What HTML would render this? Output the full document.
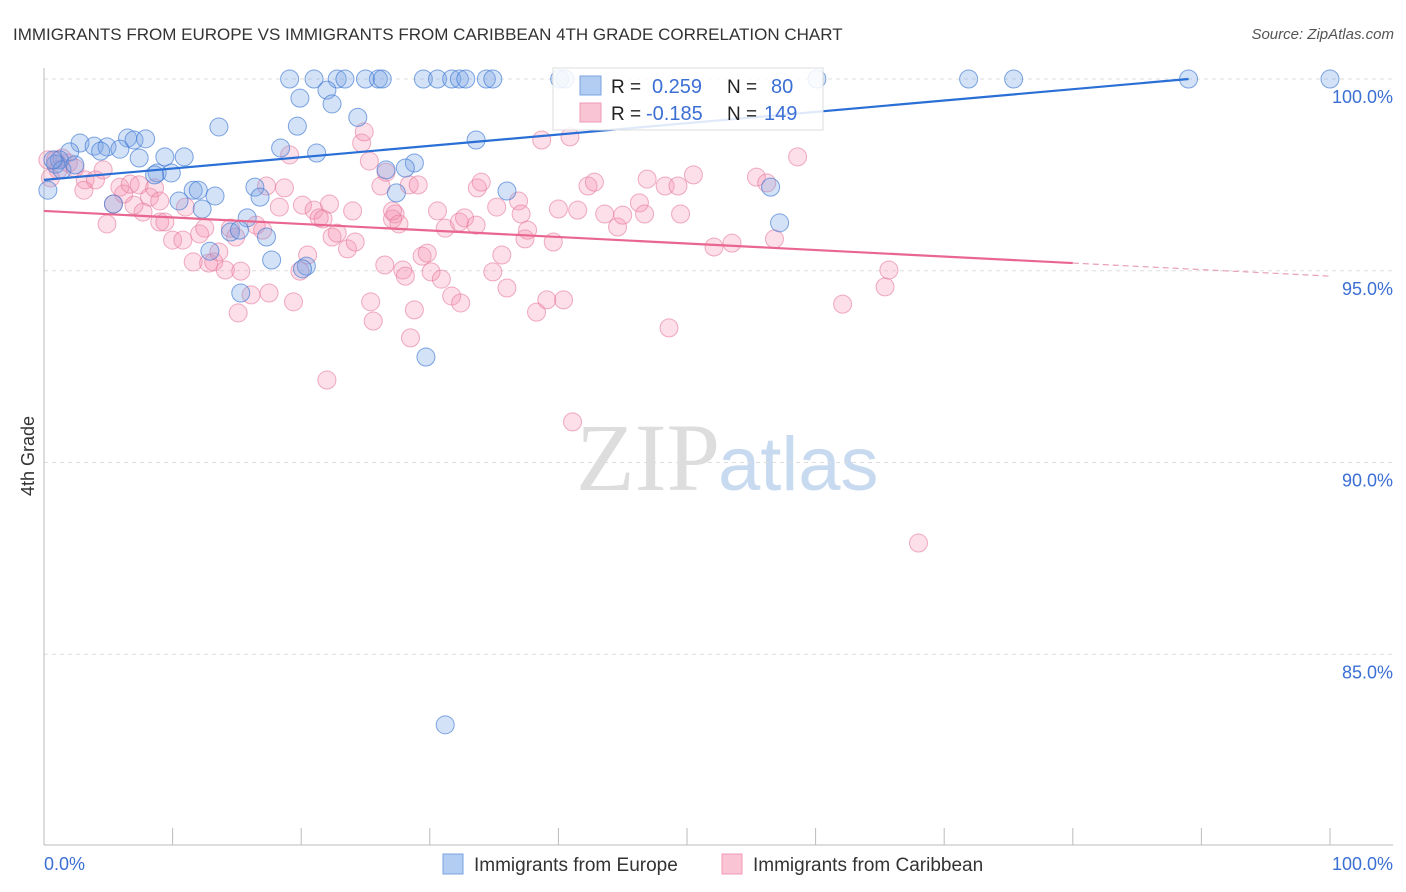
<!DOCTYPE html>
<html><head><meta charset="utf-8"><style>
body{margin:0;background:#fff;font-family:"Liberation Sans",sans-serif;}
svg{display:block}
</style></head><body>
<svg id="chart" width="1406" height="892">
<text x="13" y="40" font-size="17" fill="#333">IMMIGRANTS FROM EUROPE VS IMMIGRANTS FROM CARIBBEAN 4TH GRADE CORRELATION CHART</text>
<text x="1394" y="39" font-size="15" fill="#555" font-style="italic" text-anchor="end">Source: ZipAtlas.com</text>
<text x="720" y="490" font-size="96" fill="#ddd" text-anchor="end" font-family="Liberation Serif,serif">ZIP</text>
<text x="718" y="490" font-size="76" fill="#c8daf0">atlas</text>
<g id="grid"></g><g id="axes"></g><g id="pts"></g><g id="trends"></g>
<text transform="translate(34,456) rotate(-90)" font-size="18" fill="#333" text-anchor="middle">4th Grade</text>
<text x="44" y="870" font-size="18" fill="#3b6fd4">0.0%</text>
<text x="1393" y="870" font-size="18" fill="#3b6fd4" text-anchor="end">100.0%</text>
<g>
<rect x="553" y="68" width="270" height="62" fill="#fff" fill-opacity="0.85" stroke="#ddd"/>
<rect x="580" y="76" width="21" height="19" fill="#b3cdf2" stroke="#7aa3e0"/>
<rect x="580" y="103" width="21" height="19" fill="#f9c4d3" stroke="#f09ab4"/>
<text x="611" y="93" font-size="19" fill="#222">R =</text><text x="652" y="93" font-size="20" fill="#3b6fd4">0.259</text>
<text x="727" y="93" font-size="19" fill="#222">N =</text><text x="771" y="93" font-size="20" fill="#3b6fd4">80</text>
<text x="611" y="120" font-size="19" fill="#222">R =</text><text x="646" y="120" font-size="20" fill="#3b6fd4">-0.185</text>
<text x="727" y="120" font-size="19" fill="#222">N =</text><text x="764" y="120" font-size="20" fill="#3b6fd4">149</text>
</g>
<g>
<rect x="443" y="854" width="20" height="20" fill="#b3cdf2" stroke="#7aa3e0"/>
<text x="474" y="871" font-size="19" fill="#333">Immigrants from Europe</text>
<rect x="722" y="854" width="20" height="20" fill="#f9c4d3" stroke="#f09ab4"/>
<text x="753" y="871" font-size="19" fill="#333">Immigrants from Caribbean</text>
</g>
</svg>
<script>
const yTicks=[100,95,90,85];
const xTicks=[0,10,20,30,40,50,60,70,80,90,100];
const blueX=[19.1,21.0,22.8,23.4,25.0,26.0,26.3,29.5,30.6,31.7,32.3,32.8,34.4,34.9,40.1,40.5,60.1,71.9,75.4,89.0,100,19.9,22.0,22.4,24.4,13.6,19.7,2.8,3.9,4.9,6.5,7.0,7.9,5.9,4.4,2.0,1.2,0.9,7.4,9.4,10.9,18.4,21.2,33.6,28.8,28.1,26.6,8.8,9.9,8.6,11.6,12.0,13.3,16.4,16.8,27.4,36.0,56.5,10.5,12.3,5.4,14.5,15.8,15.2,17.3,12.9,17.7,20.4,20.1,15.3,57.2,29.7,31.2,0.3,1.4,2.4,0.7];
const blueY=[100,100,100,100,100,100,100,100,100,100,100,100,100,100,100,100,100,100,100,100,100,99.5,99.71,99.35,99.0,98.75,98.77,98.33,98.25,98.23,98.46,98.41,98.44,98.17,98.12,98.1,97.89,97.78,97.94,97.97,97.97,98.2,98.07,98.41,97.81,97.68,97.63,97.55,97.55,97.5,97.1,97.1,96.95,97.18,96.92,97.03,97.08,97.18,96.82,96.61,96.74,96.01,96.38,96.06,95.88,95.51,95.28,95.12,95.05,94.42,96.25,92.75,83.16,97.1,97.63,97.76,97.89];
const pinkX=[0.3,0.9,1.4,1.9,1.1,2.4,3.2,4.0,4.6,0.5,3.1,4.9,5.4,5.9,6.2,6.7,7.4,8.2,7.7,7.0,8.6,9.0,9.4,10.0,10.8,11.6,12.1,12.5,12.8,13.2,13.6,14.1,15.3,14.5,14.9,15.1,16.1,16.5,17.0,17.5,17.3,18.3,18.7,19.1,19.4,19.9,20.1,20.5,21.0,21.4,21.7,22.4,22.2,22.8,23.6,24.0,24.2,24.7,24.9,25.3,25.4,25.6,26.2,26.6,27.3,27.1,27.1,26.5,27.6,27.9,28.1,28.4,28.8,29.1,28.5,29.4,29.8,30.1,30.6,30.9,31.2,31.7,32.4,32.3,32.7,33.6,33.7,34.0,34.9,35.2,35.6,36.0,36.9,37.1,37.4,37.6,38.3,39.1,39.6,40.0,40.4,41.1,41.5,42.3,42.8,43.6,44.6,45.0,46.3,46.7,46.9,48.3,48.6,49.3,49.5,50.5,52.1,53.5,55.4,56.2,56.8,58.6,62.1,65.4,65.7,68.0,38.7,40.9,22.0,11.0,9.0];
const pinkY=[97.89,97.89,97.94,97.81,97.63,97.68,97.37,97.37,97.63,97.42,97.1,96.22,96.74,97.18,97.0,97.26,97.24,96.92,96.53,96.71,97.16,96.27,96.27,95.8,95.8,95.23,95.96,96.11,95.2,95.23,95.49,95.02,94.99,96.11,95.88,93.9,94.37,96.19,96.06,94.42,97.21,96.66,97.16,98.02,94.19,94.99,96.71,95.41,96.58,96.38,96.35,95.88,96.74,95.98,95.57,96.56,95.75,98.33,98.62,97.86,94.19,93.69,97.21,97.57,96.48,96.35,96.56,95.15,96.22,95.02,94.86,97.24,93.98,97.24,93.25,95.38,95.46,94.97,96.56,94.78,96.11,94.34,94.16,96.27,96.38,96.19,97.16,97.31,94.97,96.66,95.41,94.55,96.82,96.48,95.83,96.06,93.92,94.24,95.75,96.61,94.24,91.06,96.58,97.21,97.31,96.48,96.14,96.45,96.77,96.48,97.39,97.21,93.51,97.21,96.48,97.5,95.62,95.72,97.44,97.29,95.83,97.97,94.13,94.58,95.02,87.9,98.41,98.49,92.15,96.66,96.82];
const blueTrend=[97.37,100.0];const blueTrendX=[0,89];
const pinkTrend=[96.56,95.2,94.86];const pinkTrendX=[0,80,100];
const NS="http://www.w3.org/2000/svg";
const xs=v=>44+v*12.86, ys=v=>79+(100-v)*38.35;
function mk(tag,attrs,parent){const e=document.createElementNS(NS,tag);for(const k in attrs)e.setAttribute(k,attrs[k]);document.getElementById(parent).appendChild(e);return e;}
yTicks.forEach(t=>{
 const l=mk('line',{x1:44,x2:1393,y1:ys(t),y2:ys(t),stroke:'#ddd','stroke-dasharray':'4,4'},'grid');
 
 
 const tx=mk('text',{x:1393,y:ys(t)+24,'font-size':18,fill:'#3b6fd4','text-anchor':'end'},'grid');
 tx.textContent=t.toFixed(1)+'%';
 
 
});
const ax=mk('line',{x1:44,x2:44,y1:68,y2:845,stroke:'#bbb'},'axes');


const bx=mk('line',{x1:44,x2:1393,y1:845,y2:845,stroke:'#bbb'},'axes');


xTicks.forEach(t=>{
 const l=mk('line',{x1:xs(t),x2:xs(t),y1:828,y2:845,stroke:'#bbb'},'axes');
 
 
});
pinkX.forEach((x,i)=>{
 const c=mk('circle',{cx:xs(x),cy:ys(pinkY[i]),r:9,fill:'rgba(244,150,178,0.3)',stroke:'rgba(230,120,155,0.6)','stroke-width':1},'pts');
 
 
});
blueX.forEach((x,i)=>{
 const c=mk('circle',{cx:xs(x),cy:ys(blueY[i]),r:9,fill:'rgba(120,165,230,0.32)',stroke:'rgba(60,120,210,0.65)','stroke-width':1},'pts');
 
 
});
const bt=mk('line',{x1:xs(blueTrendX[0]),y1:ys(blueTrend[0]),x2:xs(blueTrendX[1]),y2:ys(blueTrend[1]),stroke:'#2a6fd6','stroke-width':2.2},'trends');


const pt=mk('line',{x1:xs(pinkTrendX[0]),y1:ys(pinkTrend[0]),x2:xs(pinkTrendX[1]),y2:ys(pinkTrend[1]),stroke:'#e8668f','stroke-width':2.2},'trends');


const pd=mk('line',{x1:xs(pinkTrendX[1]),y1:ys(pinkTrend[1]),x2:xs(pinkTrendX[2]),y2:ys(pinkTrend[2]),stroke:'#e8a0b5','stroke-width':1.2,'stroke-dasharray':'6,4'},'trends');


</script>
</body></html>
